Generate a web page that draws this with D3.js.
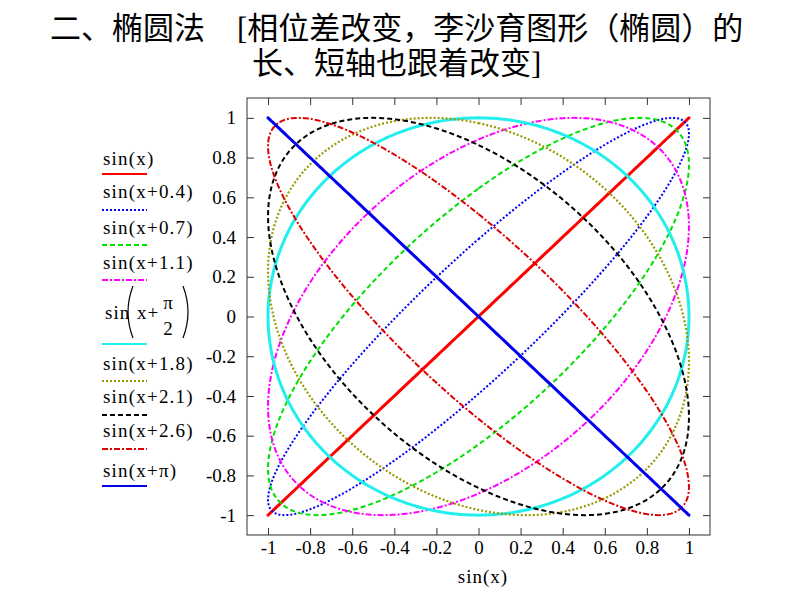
<!DOCTYPE html>
<html>
<head>
<meta charset="utf-8">
<script src="https://cdn.jsdelivr.net/npm/d3@7"></script>
<style>
  html, body { margin: 0; padding: 0; background: #fff; }
  svg { display: block; }
</style>
</head>
<body>
<svg id="chart" width="800" height="600"></svg>
<script>
// ---- data ----
const phases = [0, 0.4, 0.7, 1.1, Math.PI / 2, 1.8, 2.1, 2.6, Math.PI];
const seriesLabels = ["sin(x)", "sin(x+0.4)", "sin(x+0.7)", "sin(x+1.1)", "sin(x+π/2)",
                      "sin(x+1.8)", "sin(x+2.1)", "sin(x+2.6)", "sin(x+π)"];
const xTicks = [-1, -0.8, -0.6, -0.4, -0.2, 0, 0.2, 0.4, 0.6, 0.8, 1];
const xTickLabels = ["-1", "-0.8", "-0.6", "-0.4", "-0.2", "0", "0.2", "0.4", "0.6", "0.8", "1"];
const yTicks = [1, 0.8, 0.6, 0.4, 0.2, 0, -0.2, -0.4, -0.6, -0.8, -1];
const yTickLabels = ["1", "0.8", "0.6", "0.4", "0.2", "0", "-0.2", "-0.4", "-0.6", "-0.8", "-1"];
const titleLine1a = "二、椭圆法";
const titleLine1b = "[相位差改变，李沙育图形（椭圆）的";
const titleLine2 = "长、短轴也跟着改变]";
const xAxisTitle = "sin(x)";

// ---- styles (kept apart from data) ----
const colors = ["#ff0000", "#0000ff", "#00e000", "#ff00ff", "#22eeee", "#999900", "#000000", "#dd0000", "#0000ee"];
const dashes = [null, "2,2", "5,3", "6,2,2,2", null, "2,2", "5,3", "6,2,2,2", null];
const widths = [3, 2, 2, 2, 3, 2.2, 2, 2, 3];

const svg = d3.select("#chart");
const serif = "'Liberation Serif', 'Times New Roman', serif";

// ---- title ----
const tg = svg.append("g").attr("font-family", "'Liberation Serif', 'Noto Sans CJK SC', serif")
  .attr("font-size", 31).attr("fill", "#000");
tg.append("text").attr("x", 50).attr("y", 39).text(titleLine1a);
tg.append("text").attr("x", 237).attr("y", 39).text(titleLine1b);
tg.append("text").attr("x", 252).attr("y", 74).text(titleLine2);

// ---- scales ----
const L = 247, R = 710, T = 98, B = 535;
const x = d3.scaleLinear().domain([-1.1, 1.1]).range([L, R]);
const y = d3.scaleLinear().domain([-1.1, 1.1]).range([B, T]);

// ---- axes ----
function styleAxis(g) {
  g.select(".domain").remove();
  g.selectAll(".tick line").attr("stroke", "#333");
  g.selectAll("text").attr("font-family", serif).attr("font-size", 19).attr("fill", "#000");
}
svg.append("g").attr("transform", `translate(0,${B})`)
  .call(d3.axisBottom(x).tickValues(xTicks).tickSize(-7).tickPadding(5.5)
    .tickFormat((d, i) => xTickLabels[i]))
  .call(styleAxis);
svg.append("g").attr("transform", `translate(0,${T})`)
  .call(d3.axisTop(x).tickValues(xTicks).tickSize(-7).tickFormat(""))
  .call(styleAxis);
svg.append("g").attr("transform", `translate(${L},0)`)
  .call(d3.axisLeft(y).tickValues(yTicks).tickSize(-7).tickPadding(11)
    .tickFormat((d, i) => yTickLabels[i]))
  .call(styleAxis);
svg.append("g").attr("transform", `translate(${R},0)`)
  .call(d3.axisRight(y).tickValues(yTicks).tickSize(-7).tickFormat(""))
  .call(styleAxis);

svg.append("rect").attr("x", L).attr("y", T).attr("width", R - L).attr("height", B - T)
  .attr("fill", "none").attr("stroke", "#333").attr("stroke-width", 1);

svg.append("text").attr("x", 483).attr("y", 583).attr("text-anchor", "middle")
  .attr("font-family", serif).attr("font-size", 19).attr("letter-spacing", 1).text(xAxisTitle);

// ---- curves: x = sin(t), y = sin(t + phase) ----
const tSamples = d3.range(0, 361).map(i => i * Math.PI / 180);
const line = d3.line().x(d => x(d[0])).y(d => y(d[1]));
const plot = svg.append("g");
phases.forEach((p, i) => {
  const pts = tSamples.map(t => [Math.sin(t), Math.sin(t + p)]);
  plot.append("path").datum(pts)
    .attr("d", line)
    .attr("fill", "none")
    .attr("stroke", colors[i])
    .attr("stroke-width", widths[i])
    .attr("stroke-dasharray", dashes[i])
    .attr("stroke-linejoin", "round");
});

// ---- legend ----
const textBase = [165, 198, 234, 269, 319, 370, 403, 437, 477];
const lineY = [174, 210, 245, 280, 344, 381, 415, 449, 486];
const lg = svg.append("g").attr("font-family", serif).attr("font-size", 19).attr("fill", "#000");
seriesLabels.forEach((lab, i) => {
  if (i === 4) {
    lg.append("text").attr("x", 105).attr("y", textBase[i]).attr("letter-spacing", 1).text("sin");
    lg.append("path").attr("d", "M133,286 Q123,312 133,338").attr("fill", "none").attr("stroke", "#000").attr("stroke-width", 1.2);
    lg.append("text").attr("x", 137).attr("y", textBase[i]).attr("letter-spacing", 1).text("x+");
    lg.append("text").attr("x", 168).attr("y", 309).attr("text-anchor", "middle").text("π");
    lg.append("text").attr("x", 168).attr("y", 335).attr("text-anchor", "middle").text("2");
    lg.append("path").attr("d", "M183,286 Q193,312 183,338").attr("fill", "none").attr("stroke", "#000").attr("stroke-width", 1.2);
  } else {
    lg.append("text").attr("x", 103).attr("y", textBase[i]).attr("letter-spacing", 1.2).text(lab);
  }
  lg.append("line").attr("x1", 102).attr("x2", 147).attr("y1", lineY[i]).attr("y2", lineY[i])
    .attr("stroke", colors[i]).attr("stroke-width", 2)
    .attr("stroke-dasharray", dashes[i]);
});
</script>
</body>
</html>
